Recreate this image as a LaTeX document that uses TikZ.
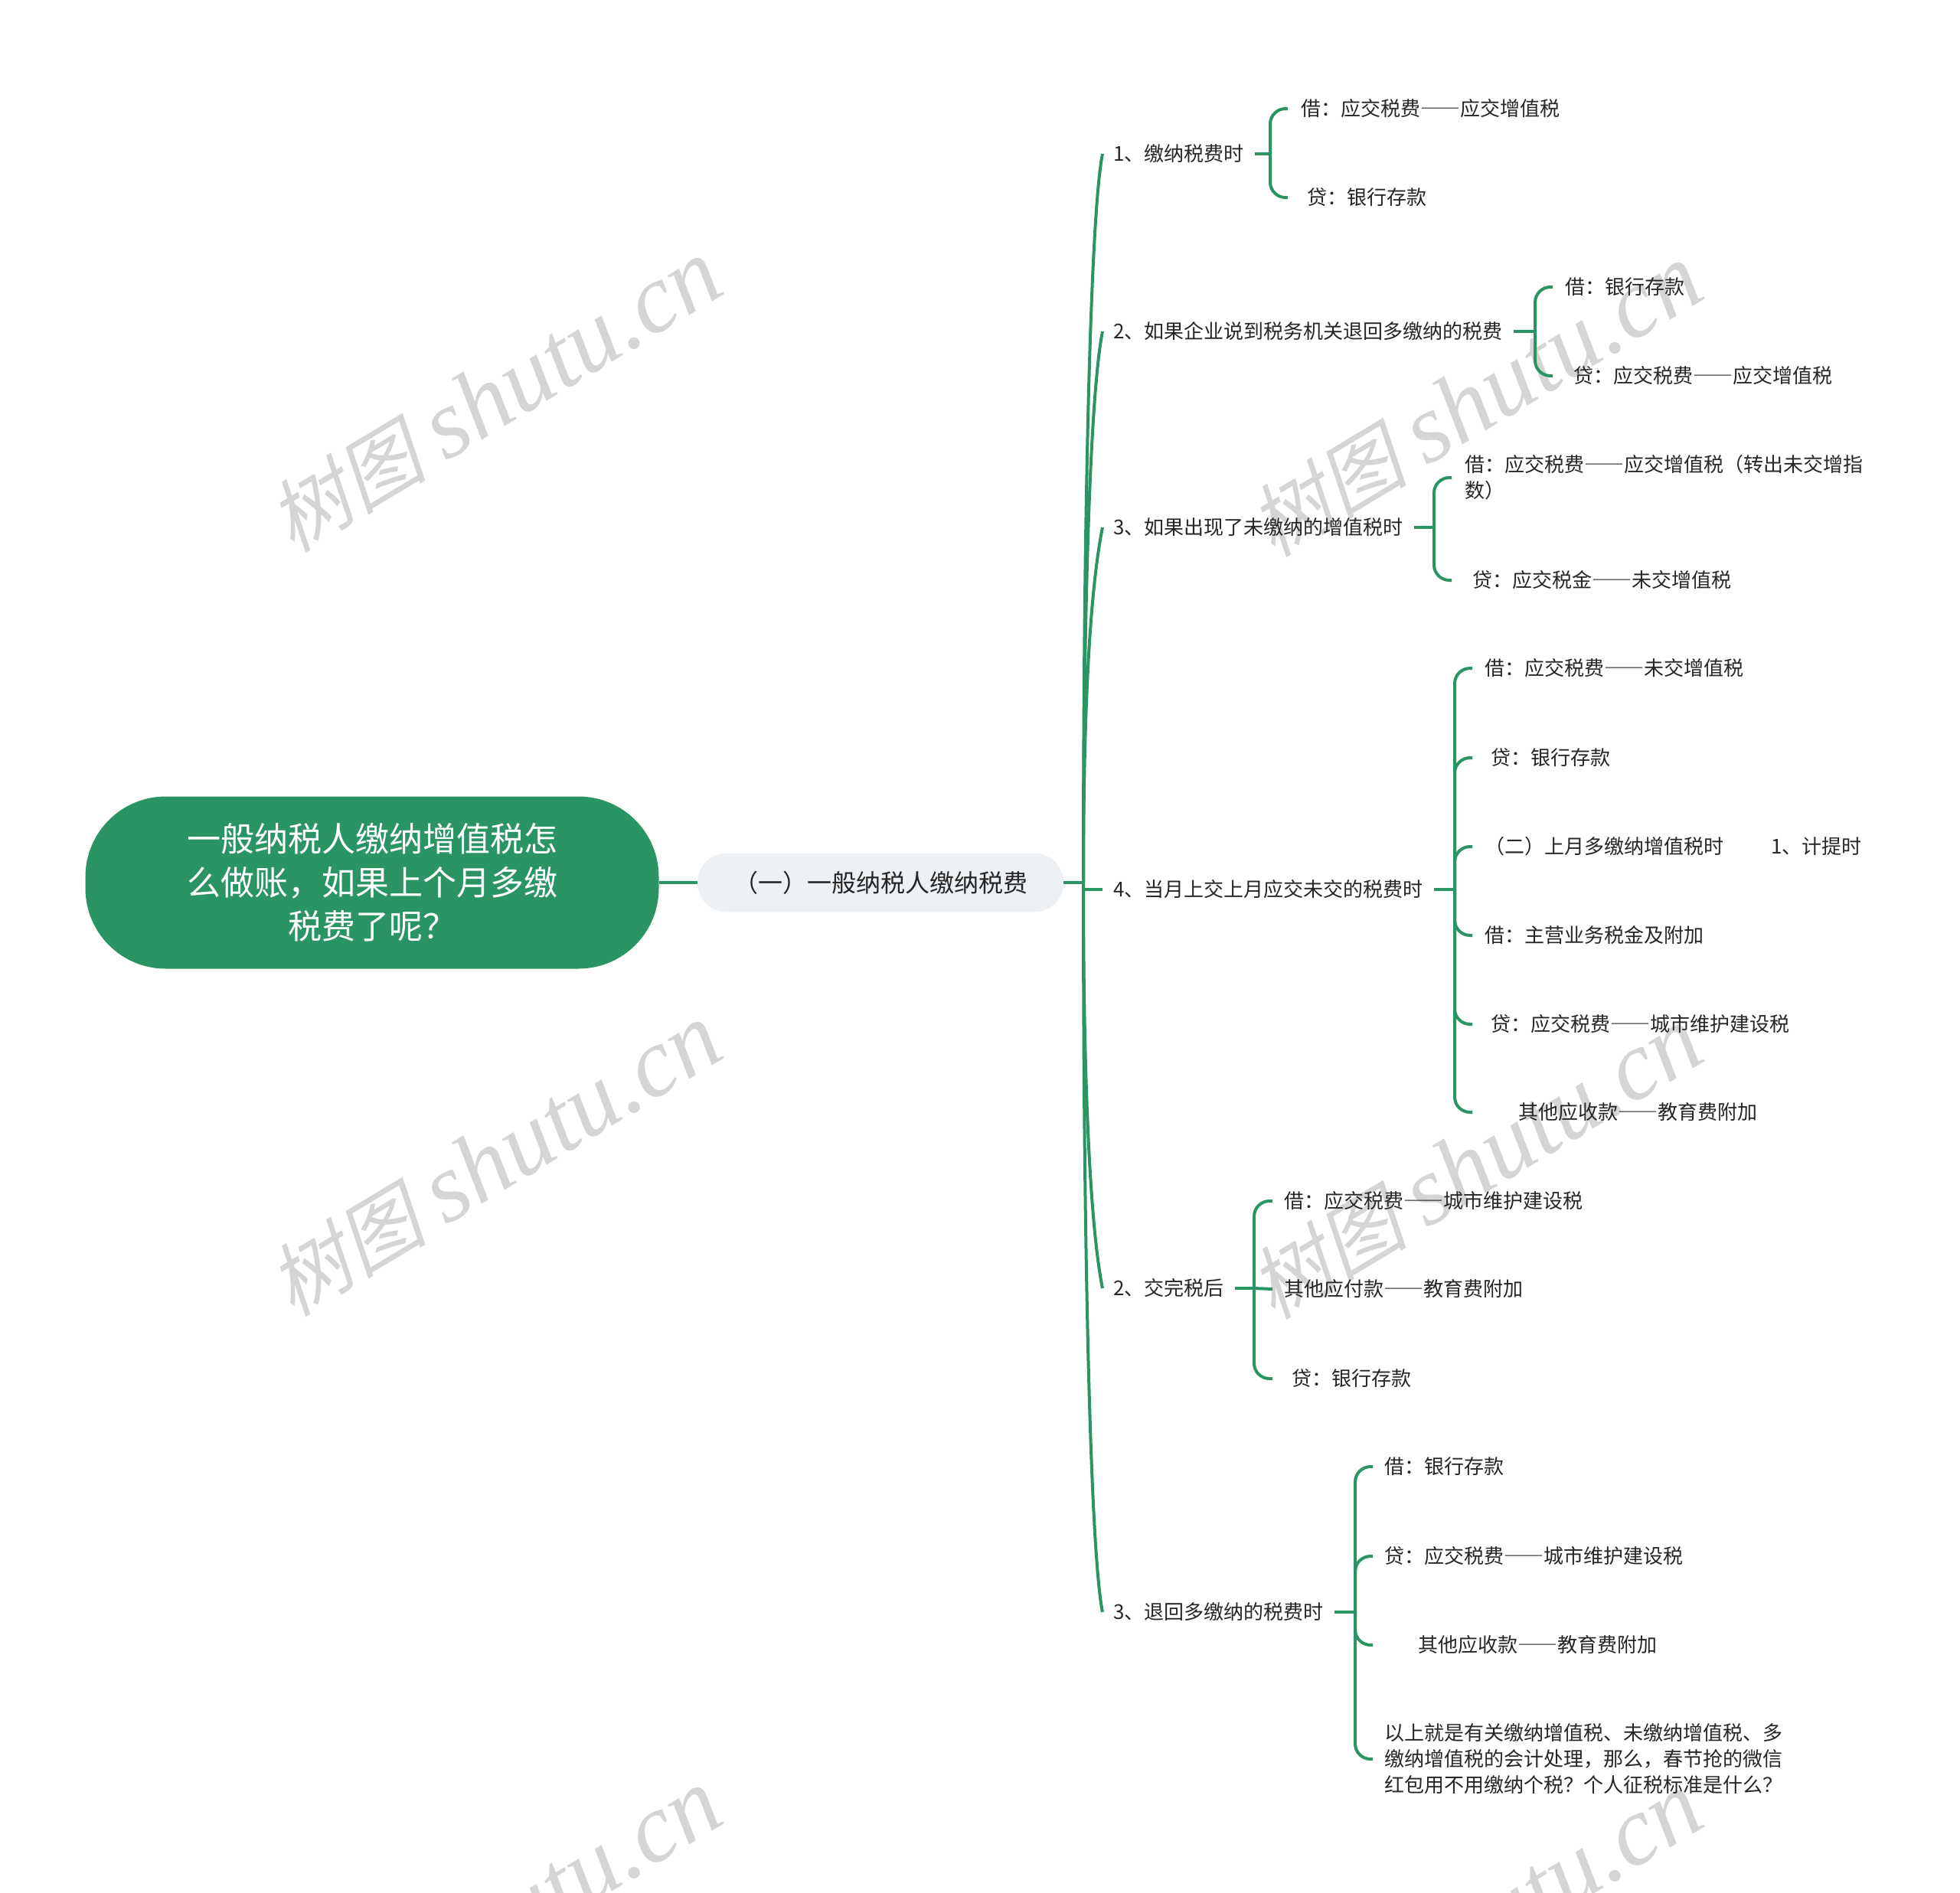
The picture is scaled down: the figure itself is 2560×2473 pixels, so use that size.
\documentclass[tikz,border=0pt]{standalone}
\usepackage{fontspec}
\setmainfont{Noto Sans CJK SC}[Script=CJK, Language=Chinese Simplified]
\newfontfamily\wmcjk{Noto Sans CJK SC}[FakeSlant=0.22]
\newfontfamily\wmlat{Liberation Serif}
\definecolor{mgreen}{HTML}{2A9563}
\definecolor{mgray}{HTML}{EEF1F4}
\definecolor{mtext}{HTML}{262626}
\definecolor{wmgray}{HTML}{D5D5D5}
\newcommand{\wmtext}{{\fontsize{104}{104}\selectfont\wmcjk 树图}\hspace{26pt}{\fontsize{128}{128}\selectfont\wmlat\itshape shutu.cn}}

\begin{document}
\begin{tikzpicture}[x=1pt,y=-1pt,
    root/.style = {fill=mgreen, rounded corners=105pt, minimum width=749pt, minimum height=225pt, text=white, align=center, font=\fontsize{44}{57}\selectfont},
    sub/.style = {fill=mgray, rounded corners=38pt, minimum width=478pt, minimum height=77pt, text=mtext, font=\fontsize{32}{40}\selectfont},
    br/.style = {anchor=west, inner xsep=14pt, inner ysep=4pt, text=mtext, font=\fontsize{26}{33}\selectfont},
    leaf/.style = {anchor=west, inner sep=0pt, text=mtext, align=left, font=\fontsize{26}{34}\selectfont},
    link/.style = {draw=mgreen, line width=4pt},
    wm/.style = {text=wmgray, rotate=31}]
    \useasboundingbox (0,0) rectangle (2560,2473);
    \clip (0,0) rectangle (2560,2473);
    % watermarks
    \node[wm] (w1) at (646,518) {\wmtext};
    \node[wm] (w2) at (646,1516) {\wmtext};
    \node[wm] (w3) at (1927,524) {\wmtext};
    \node[wm] (w4) at (1927,1520) {\wmtext};
    \node[wm] (w5) at (646,2516) {\wmtext};
    \node[wm] (w6) at (1927,2520) {\wmtext};
    % main nodes
    \node[root] (r) at (486,1153) {一般纳税人缴纳增值税怎\\么做账，如果上个月多缴\\税费了呢？};
    \node[sub] (s) at (1150,1153) {（一）一般纳税人缴纳税费};
    \coordinate (tr) at (1415,1153);
    \node[br] (b1) at (1440,201) {1、缴纳税费时};
    \node[br] (b2) at (1440,433) {2、如果企业说到税务机关退回多缴纳的税费};
    \node[br] (b3) at (1440,689) {3、如果出现了未缴纳的增值税时};
    \node[br] (b4) at (1440,1162) {4、当月上交上月应交未交的税费时};
    \node[br] (b5) at (1440,1683) {2、交完税后};
    \node[br] (b6) at (1440,2106) {3、退回多缴纳的税费时};
    % leaves
    \node[leaf] (k11) at (1699,142) {借：应交税费——应交增值税};
    \node[leaf] (k12) at (1707,258) {贷：银行存款};
    \node[leaf] (k21) at (2044,375) {借：银行存款};
    \node[leaf] (k22) at (2055,491) {贷：应交税费——应交增值税};
    \node[leaf] (k31) at (1913,624) {借：应交税费——应交增值税（转出未交增指\\数）};
    \node[leaf] (k32) at (1923,758) {贷：应交税金——未交增值税};
    \node[leaf] (k41) at (1939,873) {借：应交税费——未交增值税};
    \node[leaf] (k42) at (1947,990) {贷：银行存款};
    \node[leaf] (k43) at (1939,1106) {（二）上月多缴纳增值税时\hspace{62pt}1、计提时};
    \node[leaf] (k44) at (1939,1222) {借：主营业务税金及附加};
    \node[leaf] (k45) at (1947,1338) {贷：应交税费——城市维护建设税};
    \node[leaf] (k46) at (1983,1453) {其他应收款——教育费附加};
    \node[leaf] (k51) at (1677,1569) {借：应交税费——城市维护建设税};
    \node[leaf] (k52) at (1677,1684) {其他应付款——教育费附加};
    \node[leaf] (k53) at (1687,1801) {贷：银行存款};
    \node[leaf] (k61) at (1808,1916) {借：银行存款};
    \node[leaf] (k62) at (1808,2033) {贷：应交税费——城市维护建设税};
    \node[leaf] (k63) at (1852,2149) {其他应收款——教育费附加};
    \node[leaf] (k64) at (1808,2298) {以上就是有关缴纳增值税、未缴纳增值税、多\\缴纳增值税的会计处理，那么，春节抢的微信\\红包用不用缴纳个税？个人征税标准是什么？};
    % bars and tips
    \coordinate (j1) at (1659,201);  \coordinate (t1) at (1682,0);
    \coordinate (j2) at (2005,433);  \coordinate (t2) at (2028,0);
    \coordinate (j3) at (1873,689);  \coordinate (t3) at (1896,0);
    \coordinate (j4) at (1900,1162); \coordinate (t4) at (1923,0);
    \coordinate (j5) at (1638,1683); \coordinate (t5) at (1662,0);
    \coordinate (j6) at (1770,2106); \coordinate (t6) at (1793,0);
    % trunk
    \draw[link] (r.east) -- (s.west);
    \draw[link] (s.east) -- (tr);
    \draw[link] (tr) .. controls (1415,677) and (1424,281) .. (b1.west);
    \draw[link] (tr) .. controls (1415,793) and (1424,513) .. (b2.west);
    \draw[link] (tr) .. controls (1415,921) and (1424,769) .. (b3.west);
    \draw[link] (tr) |- (b4.west);
    \draw[link] (tr) .. controls (1415,1418) and (1424,1603) .. (b5.west);
    \draw[link] (tr) .. controls (1415,1630) and (1424,2026) .. (b6.west);
    % braces
    \draw[link] (b1.east) -- (j1);
    \draw[link, rounded corners=20pt] (j1) |- (k11.west -| t1);
    \draw[link, rounded corners=20pt] (j1) |- (k12.west -| t1);
    \draw[link] (b2.east) -- (j2);
    \draw[link, rounded corners=20pt] (j2) |- (k21.west -| t2);
    \draw[link, rounded corners=20pt] (j2) |- (k22.west -| t2);
    \draw[link] (b3.east) -- (j3);
    \draw[link, rounded corners=20pt] (j3) |- (k31.west -| t3);
    \draw[link, rounded corners=20pt] (j3) |- (k32.west -| t3);
    \draw[link] (b4.east) -- (j4);
    \draw[link, rounded corners=20pt] (j4) |- (k41.west -| t4);
    \draw[link, rounded corners=20pt] (j4) |- (k42.west -| t4);
    \draw[link, rounded corners=20pt] (j4) |- (k43.west -| t4);
    \draw[link, rounded corners=20pt] (j4) |- (k44.west -| t4);
    \draw[link, rounded corners=20pt] (j4) |- (k45.west -| t4);
    \draw[link, rounded corners=20pt] (j4) |- (k46.west -| t4);
    \draw[link] (b5.east) -- (j5);
    \draw[link, rounded corners=20pt] (j5) |- (k51.west -| t5);
    \draw[link] (j5) -- (k52.west -| t5);
    \draw[link, rounded corners=20pt] (j5) |- (k53.west -| t5);
    \draw[link] (b6.east) -- (j6);
    \draw[link, rounded corners=20pt] (j6) |- (k61.west -| t6);
    \draw[link, rounded corners=20pt] (j6) |- (k62.west -| t6);
    \draw[link, rounded corners=20pt] (j6) |- (k63.west -| t6);
    \draw[link, rounded corners=20pt] (j6) |- (k64.west -| t6);
\end{tikzpicture}
\end{document}
